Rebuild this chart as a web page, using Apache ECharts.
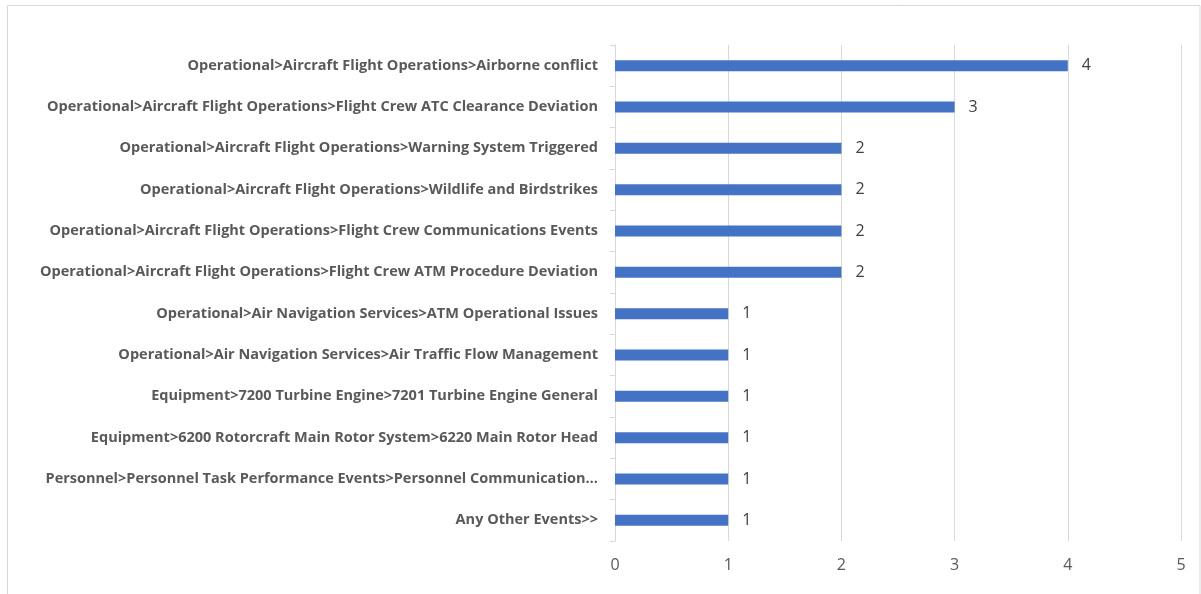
<!DOCTYPE html>
<html>
<head>
<meta charset="utf-8">
<script src="https://cdn.jsdelivr.net/npm/echarts@6/dist/echarts.min.js"></script>
<style>
  html, body { margin: 0; padding: 0; background: #ffffff; }
  #chart { width: 1201px; height: 594px; }
</style>
</head>
<body>
<div id="chart"></div>
<script>
// Event categories, listed top to bottom
const categories = [
  'Operational>Aircraft Flight Operations>Airborne conflict',
  'Operational>Aircraft Flight Operations>Flight Crew ATC Clearance Deviation',
  'Operational>Aircraft Flight Operations>Warning System Triggered',
  'Operational>Aircraft Flight Operations>Wildlife and Birdstrikes',
  'Operational>Aircraft Flight Operations>Flight Crew Communications Events',
  'Operational>Aircraft Flight Operations>Flight Crew ATM Procedure Deviation',
  'Operational>Air Navigation Services>ATM Operational Issues',
  'Operational>Air Navigation Services>Air Traffic Flow Management',
  'Equipment>7200 Turbine Engine>7201 Turbine Engine General',
  'Equipment>6200 Rotorcraft Main Rotor System>6220 Main Rotor Head',
  'Personnel>Personnel Task Performance Events>Personnel Communication\u2026',
  'Any Other Events>>'
];

// Number of occurrences per category
const counts = [4, 3, 2, 2, 2, 2, 1, 1, 1, 1, 1, 1];

// Value axis tick range
const axisMin = 0;
const axisMax = 5;
const axisStep = 1;

const chart = echarts.init(document.getElementById('chart'), null, { renderer: 'canvas' });

chart.setOption({
  backgroundColor: '#ffffff',
  animation: false,
  graphic: [{
    type: 'rect',
    shape: { x: 7.5, y: 5.5, width: 1192.5, height: 620 },
    style: { fill: 'none', stroke: '#d9d9d9', lineWidth: 1 },
    silent: true
  }],
  grid: { left: 615, right: 20, top: 45, bottom: 53, containLabel: false },
  xAxis: {
    type: 'value',
    min: axisMin,
    max: axisMax,
    interval: axisStep,
    axisLine: { show: false },
    axisTick: { show: false },
    axisLabel: {
      color: '#595959',
      fontFamily: '"Open Sans", sans-serif',
      fontSize: 16,
      margin: 16
    },
    splitLine: { show: true, lineStyle: { color: '#d9d9d9', width: 1 } }
  },
  yAxis: {
    type: 'category',
    data: categories,
    inverse: true,
    axisLine: { show: true, lineStyle: { color: '#d9d9d9', width: 1 } },
    axisTick: { show: true, length: 5, inside: false, lineStyle: { color: '#d9d9d9' } },
    axisLabel: {
      color: '#595959',
      fontFamily: '"Open Sans", sans-serif',
      fontWeight: 'bold',
      fontSize: 14.5,
      margin: 17,
      padding: [6, 0, 0, 0]
    },
    splitLine: { show: false }
  },
  series: [{
    type: 'bar',
    data: counts,
    barWidth: 11,
    itemStyle: { color: '#4472c4' },
    label: {
      show: true,
      position: 'right',
      distance: 14,
      color: '#404040',
      fontFamily: '"Open Sans", sans-serif',
      fontSize: 16,
      padding: [6, 0, 0, 0]
    }
  }]
});
</script>
</body>
</html>
